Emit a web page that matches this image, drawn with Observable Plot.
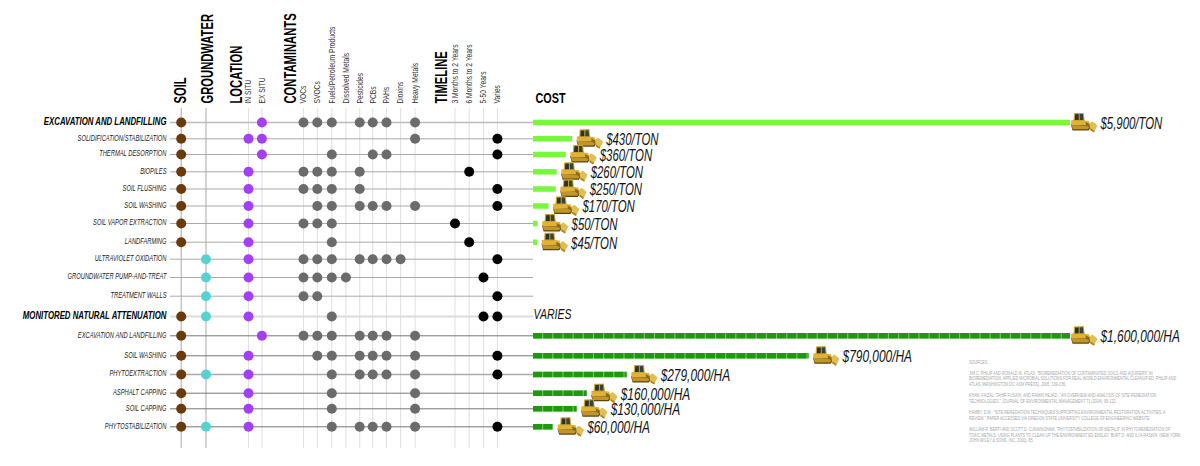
<!DOCTYPE html>
<html>
<head>
<meta charset="utf-8">
<script src="https://cdn.jsdelivr.net/npm/d3@7"></script>
<script src="https://cdn.jsdelivr.net/npm/@observablehq/plot@0.6"></script>
<style>html,body{margin:0;padding:0;background:#fff}svg{display:block}</style>
</head>
<body>
<div id="chart"></div>
<script>
const columns = ["Soil","Groundwater","IN SITU","EX SITU","VOCs","SVOCs","Fuels/Petroleum Products","Dissolved Metals","Pesticides","PCBs","PAHs","Dioxins","Heavy Metals","3 Months to 2 Years","6 Months to 2 Years","5-50 Years","Varies"];
const methods = ["EXCAVATION AND LANDFILLING","SOLIDIFICATION/STABILIZATION","THERMAL DESORPTION","BIOPILES","SOIL FLUSHING","SOIL WASHING","SOIL VAPOR EXTRACTION","LANDFARMING","ULTRAVIOLET OXIDATION","GROUNDWATER PUMP-AND-TREAT","TREATMENT WALLS","MONITORED NATURAL ATTENUATION","EXCAVATION AND LANDFILLING","SOIL WASHING","PHYTOEXTRACTION","ASPHALT CAPPING","SOIL CAPPING","PHYTOSTABILIZATION"];
const headlineMethods = [0, 11];
const applies = [
  ["Soil","EX SITU","VOCs","SVOCs","Fuels/Petroleum Products","Pesticides","PCBs","PAHs","Heavy Metals"],
  ["Soil","IN SITU","EX SITU","Heavy Metals","Varies"],
  ["Soil","EX SITU","Fuels/Petroleum Products","PCBs","PAHs","Varies"],
  ["Soil","IN SITU","VOCs","SVOCs","Fuels/Petroleum Products","Pesticides","6 Months to 2 Years"],
  ["Soil","IN SITU","VOCs","SVOCs","Fuels/Petroleum Products","Pesticides","Varies"],
  ["Soil","IN SITU","SVOCs","Fuels/Petroleum Products","Pesticides","PCBs","PAHs","Heavy Metals","Varies"],
  ["Soil","IN SITU","VOCs","SVOCs","Fuels/Petroleum Products","3 Months to 2 Years"],
  ["Soil","IN SITU","Fuels/Petroleum Products","6 Months to 2 Years"],
  ["Groundwater","IN SITU","VOCs","SVOCs","Fuels/Petroleum Products","Pesticides","PCBs","PAHs","Dioxins","Varies"],
  ["Groundwater","IN SITU","VOCs","SVOCs","Fuels/Petroleum Products","Dissolved Metals","5-50 Years"],
  ["Groundwater","IN SITU","VOCs","SVOCs","Varies"],
  ["Soil","Groundwater","IN SITU","Fuels/Petroleum Products","5-50 Years","Varies"],
  ["Soil","EX SITU","VOCs","SVOCs","Fuels/Petroleum Products","Pesticides","PCBs","PAHs","Heavy Metals"],
  ["Soil","IN SITU","SVOCs","Fuels/Petroleum Products","Pesticides","PCBs","PAHs","Heavy Metals","Varies"],
  ["Soil","Groundwater","IN SITU","Fuels/Petroleum Products","Pesticides","PCBs","PAHs","Heavy Metals","Varies"],
  ["Soil","IN SITU","Fuels/Petroleum Products","Heavy Metals"],
  ["Soil","IN SITU","Fuels/Petroleum Products","Heavy Metals"],
  ["Soil","Groundwater","IN SITU","Fuels/Petroleum Products","Pesticides","PCBs","PAHs","Heavy Metals","Varies"]
];
const tonRows = [0,1,2,3,4,5,6,7];
const tonCosts = [5900,430,360,260,250,170,50,45];
const tonLabels = ["$5,900/TON","$430/TON","$360/TON","$260/TON","$250/TON","$170/TON","$50/TON","$45/TON"];
const haRows = [12,13,14,15,16,17];
const haCosts = [1600000,821000,279000,160000,130000,60000]; // bar lengths as drawn
const haLabels = ["$1,600,000/HA","$790,000/HA","$279,000/HA","$160,000/HA","$130,000/HA","$60,000/HA"];
const groupTitles = ["SOIL","GROUNDWATER","LOCATION","CONTAMINANTS","TIMELINE"];
const groupCols = [0, 1.03, 1.72, 3.7, 12.67];
const sources = `SOURCES:

JIM C. PHILIP AND RONALD M. ATLAS, "BIOREMEDIATION OF CONTAMINATED SOILS AND AQUIFERS" IN
BIOREMEDIATION: APPLIED MICROBIAL SOLUTIONS FOR REAL-WORLD ENVIRONMENTAL CLEANUP ED. PHILIP AND
ATLAS (WASHINGTON DC: ASM PRESS), 2005, 139-236.

KHAN, FAIZAL, TAHIR FUSAIN, AND RAMIN HEJAZI. "AN OVERVIEW AND ANALYSIS OF SITE REMEDIATION
TECHNOLOGIES." JOURNAL OF ENVIRONMENTAL MANAGEMENT 71 (2004): 95-122.

HAMBY, D.M.. "SITE REMEDIATION TECHNIQUES SUPPORTING ENVIRONMENTAL RESTORATION ACTIVITIES: A
REVIEW." PAPER ACCESSED VIA OREGON STATE UNIVERSITY COLLEGE OF ENGINEERING WEBSITE.

WILLIAM R. BERTI AND SCOTT D. CUNNINGHAM, "PHYTOSTABILIZATION OF METALS" IN PHYTOREMEDIATION OF
TOXIC METALS: USING PLANTS TO CLEAN UP THE ENVIRONMENT ED ENSLEY, BURT D. AND ILYA RASKIN. (NEW YORK:
JOHN WILEY & SONS, INC, 2000), 85.`;

// style tables
const dotColor = c => c === "Soil" ? "#6b3a0a" : c === "Groundwater" ? "#55d3d3" : (c === "IN SITU" || c === "EX SITU") ? "#a23ff7"
  : ["3 Months to 2 Years","6 Months to 2 Years","5-50 Years","Varies"].includes(c) ? "#000" : "#6b6b6b";
const sans = "'Liberation Sans',Arial,sans-serif";

const dozerSvg = `<svg xmlns="http://www.w3.org/2000/svg" viewBox="0 0 27 20">
<path d="M0.3 11.5 L18 11.5 L20.5 14.8 L18 18 L2 18 Z" fill="#5d4510"/>
<path d="M1 13 L17.6 13 L19 15 L17.4 16.8 L2.4 16.8 Z" fill="#c0952a"/>
<path d="M0.6 7.8 L8 7.2 L18.5 8.4 L19.5 12.5 L0.8 13 Z" fill="#e0b238"/>
<path d="M3.5 0.6 L13.2 0.3 L14.2 8.5 L3 8.5 Z" fill="#d0a32f"/>
<path d="M4.6 1.8 L8.2 1.6 L8.2 7.4 L4.3 7.4 Z" fill="#26342c"/>
<path d="M9.2 1.6 L12.4 1.5 L13 7.4 L9.2 7.4 Z" fill="#33443a"/>
<path d="M15 9.5 L20 12 L19 15 L15.5 13 Z" fill="#8a6a1c"/>
<path d="M19 11 L21.8 8.8 L27 13 L23.4 20 L19.6 17.4 Z" fill="#e2bd52"/>
<path d="M19.6 17.4 L23.4 20 L24.2 18.4 L20.2 15.8 Z" fill="#a98424"/>
</svg>`;
const dozer = "data:image/svg+xml," + encodeURIComponent(dozerSvg);

// table built from the arrays
const colIndex = c => columns.indexOf(c);
const dots = methods.flatMap((m, i) => applies[i].map(c => ({row: i, col: colIndex(c), color: dotColor(c)})));
const costStart = columns.length;
const costEnd = columns.length + 1;
const tonMax = d3.max(tonCosts), haMax = d3.max(haCosts);
const tonBars = tonRows.map((r, i) => ({row: r, end: costStart + tonCosts[i] / tonMax, label: tonLabels[i], top: tonCosts[i] === tonMax}));
const haBars = haRows.map((r, i) => ({row: r, end: costStart + haCosts[i] / haMax, label: haLabels[i], top: haCosts[i] === haMax}));
const allBars = [...tonBars, ...haBars];
const rowsTable = methods.map((m, i) => ({row: i, name: m, head: headlineMethods.includes(i)}));
const rowStroke = i => (i === 11 ? "#dcdcdc" : i === 14 ? "#aaa" : i >= 12 ? "#777" : i === 0 ? "#bbb" : "#aaa");
const rowWidth = i => (i === 11 ? 2 : i === 14 ? 1.6 : i === 0 ? 1.4 : 1);
const colTable = columns.map((c, i) => ({name: c, col: i}));
const groups = groupTitles.map((t, i) => ({title: t, col: groupCols[i]}));

const plot = Plot.plot({
  width: 1200, height: 466,
  marginLeft: 0, marginRight: 0, marginTop: 0, marginBottom: 0,
  style: {background: "#fff", fontFamily: sans},
  x: {type: "linear", axis: null,
      domain: [-1, ...columns.map((c, i) => i), costStart, costEnd],
      range: [170, 180.7, 205.5, 248, 261.4, 303, 316.8, 331.3, 345.4, 359.2, 372.2, 386, 400.1, 414.6, 454.5, 468.7, 483, 496.9, 533, 1070]},
  y: {type: "linear", axis: null,
      domain: [-1, ...methods.map((m, i) => i)],
      range: [108, 122, 138.3, 154, 171.3, 188.5, 205.5, 223, 241.7, 258.7, 277, 295.7, 316, 335.3, 355.3, 374, 392.7, 408.3, 426.3]},
  marks: [
    Plot.ruleX(colTable, {x: "col", y1: -1, y2: 18.2, stroke: d => d.col < 2 ? "#aaa" : "#e2e2e2", strokeWidth: d => d.col < 2 ? 1 : 1.1}),
    Plot.ruleY(rowsTable, {y: "row", x1: -1, x2: costStart, stroke: d => rowStroke(d.row), strokeWidth: d => rowWidth(d.row)}),
    Plot.ruleY(tonBars, {y: "row", x1: costStart, x2: "end", stroke: "#78f83c", strokeWidth: 5.5}),
    Plot.ruleY(haBars, {y: "row", x1: costStart, x2: "end", stroke: "#7cc46e", strokeWidth: 5.5}),
    Plot.ruleY(haBars, {y: "row", x1: costStart, x2: "end", stroke: "#1d9a0c", strokeWidth: 5.5, strokeDasharray: "9.1,1.07"}),
    Plot.dot(dots, {x: "col", y: "row", r: 5, fill: "color", stroke: null}),
    Plot.image(allBars.filter(d => !d.top), {x: "end", y: "row", src: dozer, width: 27, height: 20, dx: 17}),
    Plot.image(allBars.filter(d => d.top), {x: "end", y: "row", src: dozer, width: 27, height: 20, dx: 13.5}),
    Plot.text(allBars.filter(d => !d.top), {x: "end", y: "row", text: "label", dx: 33.5, dy: 1, textAnchor: "start", fontSize: 17, fontStyle: "italic", fill: "#111"}),
    Plot.text(allBars.filter(d => d.top), {x: "end", y: "row", text: "label", dx: 30, dy: 1, textAnchor: "start", fontSize: 17, fontStyle: "italic", fill: "#111"}),
    Plot.text(["VARIES"], {x: costStart, y: 11, text: d => d, dy: -2, textAnchor: "start", fontSize: 15, fontStyle: "italic", fill: "#111"}),
    Plot.text(rowsTable.filter(d => !d.head), {x: -1, y: "row", text: "name", dx: -4, dy: -1, textAnchor: "end", fontSize: 8.5, fontStyle: "italic", fill: "#222"}),
    Plot.text(rowsTable.filter(d => d.head), {x: -1, y: "row", text: "name", dx: -4, dy: -1, textAnchor: "end", fontSize: 11.5, fontStyle: "italic", fontWeight: "bold", fill: "#000"}),
    Plot.text(colTable.slice(2), {x: "col", y: -1, text: "name", rotate: -90, textAnchor: "start", dy: -5, fontSize: 8.8, fill: "#333"}),
    Plot.text(groups, {x: "col", y: -1, text: "title", rotate: -90, textAnchor: "start", dy: -5, fontSize: 16.5, fontWeight: "bold", fill: "#000"}),
    Plot.text(["COST"], {x: costStart, y: -1, text: d => d, dx: 2, dy: -10, textAnchor: "start", fontSize: 15, fontWeight: "bold", fill: "#000"}),
    Plot.text([sources], {frameAnchor: "top-left", text: d => d, dx: 968.5, dy: 359, textAnchor: "start", lineAnchor: "top", lineHeight: 1.2, fontSize: 4.7, fill: "#a6a6a6"})
  ]
});
document.getElementById("chart").append(plot);

// No condensed face is installed: condense each text with textLength so it stays real text.
const factorFor = new Map([
  ...tonLabels.map(t => [t, 0.67]), ...haLabels.map(t => [t, 0.7]),
  ["VARIES", 0.7], ["COST", 0.72],
  ...methods.map(t => [t, 0.68]), ...headlineMethods.map(i => [methods[i], 0.68]),
  ...columns.slice(2).map(t => [t, 0.76]), ...groupTitles.map(t => [t, 0.68])
]);
plot.querySelectorAll("text").forEach(t => {
  const parts = [...t.querySelectorAll("tspan")];
  const list = parts.length ? parts : [t];
  list.forEach(el => {
    const f = parts.length ? 0.79 : factorFor.get(el.textContent);
    const w = el.getComputedTextLength();
    if (f && w > 0) { el.setAttribute("textLength", (w * f).toFixed(2)); el.setAttribute("lengthAdjust", "spacingAndGlyphs"); }
  });
});
</script>
</body>
</html>
